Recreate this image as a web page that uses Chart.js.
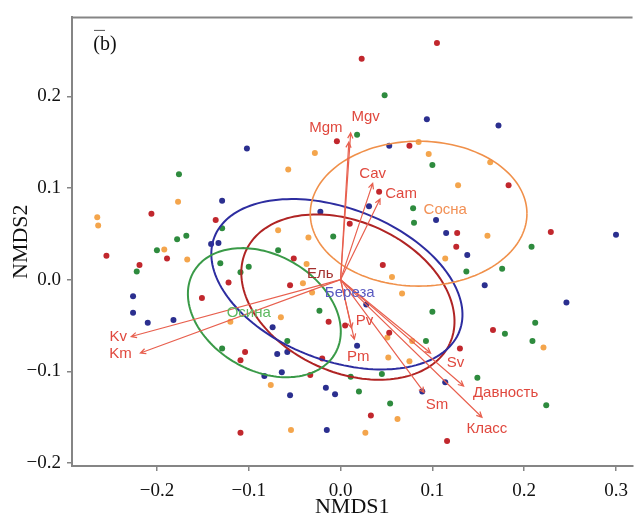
<!DOCTYPE html>
<html>
<head>
<meta charset="utf-8">
<script src="https://cdn.jsdelivr.net/npm/chart.js@4.4.1/dist/chart.umd.min.js"></script>
<style>
  html, body { margin: 0; padding: 0; background: #fff; }
</style>
</head>
<body>
<canvas id="nmdsChart" width="637" height="520"></canvas>
<script>
// Site scores (NMDS1 / NMDS2) by dominant tree species
const elX = [0.105, 0.023, -0.004, 0.075, 0.042, 0.183, -0.206, -0.136, 0.010, 0.127, 0.229, 0.126, -0.255, -0.189, -0.051, -0.219, -0.122, -0.055, -0.151, -0.104, -0.109, -0.033, -0.109, 0.046, -0.013, 0.005, 0.053, 0.130, 0.166, 0.033, 0.116, -0.020];
const elY = [0.258, 0.241, 0.151, 0.146, 0.096, 0.103, 0.072, 0.065, 0.061, 0.051, 0.052, 0.036, 0.026, 0.023, 0.023, 0.016, -0.003, -0.006, -0.020, -0.079, -0.088, -0.104, -0.167, 0.016, -0.046, -0.050, -0.058, -0.075, -0.055, -0.148, -0.176, -0.086];

const berX = [-0.102, 0.094, 0.172, 0.053, -0.129, 0.031, -0.022, 0.104, -0.141, -0.133, 0.115, 0.300, 0.138, -0.226, -0.226, -0.210, -0.182, -0.074, -0.069, -0.058, -0.083, -0.064, -0.055, 0.028, 0.018, -0.016, -0.006, -0.015, 0.089, 0.114, 0.157, 0.246];
const berY = [0.143, 0.175, 0.168, 0.146, 0.086, 0.080, 0.074, 0.065, 0.039, 0.040, 0.051, 0.049, 0.027, -0.018, -0.036, -0.047, -0.044, -0.052, -0.081, -0.079, -0.105, -0.101, -0.126, -0.027, -0.072, -0.118, -0.125, -0.164, -0.122, -0.112, -0.006, -0.025];

const osX = [0.048, 0.018, 0.100, -0.176, 0.079, 0.080, -0.129, -0.008, -0.168, -0.178, 0.208, -0.200, -0.068, -0.131, -0.100, -0.222, -0.109, -0.129, -0.058, -0.023, 0.011, 0.045, 0.020, 0.054, 0.100, 0.093, 0.137, 0.176, 0.179, 0.212, 0.209, 0.149, 0.224];
const osY = [0.201, 0.158, 0.125, 0.115, 0.078, 0.062, 0.056, 0.047, 0.048, 0.044, 0.036, 0.032, 0.032, 0.018, 0.014, 0.009, 0.008, -0.075, -0.067, -0.034, -0.106, -0.103, -0.122, -0.135, -0.035, -0.067, 0.009, 0.012, -0.059, -0.047, -0.067, -0.107, -0.137];

const sosX = [-0.028, -0.057, -0.177, -0.265, -0.264, 0.085, 0.096, 0.163, 0.128, -0.068, -0.035, 0.160, 0.114, -0.192, -0.167, -0.041, -0.120, -0.065, -0.076, -0.054, -0.037, -0.031, 0.056, 0.067, 0.051, 0.078, 0.052, 0.075, 0.062, 0.027, 0.221];
const sosY = [0.138, 0.120, 0.085, 0.068, 0.059, 0.150, 0.137, 0.128, 0.103, 0.054, 0.046, 0.048, 0.023, 0.033, 0.022, -0.004, -0.046, -0.041, -0.115, -0.164, 0.017, -0.014, 0.003, -0.015, -0.063, -0.067, -0.085, -0.089, -0.152, -0.167, -0.074];

// group ellipses: centre, semi-axes, rotation (deg)
const groups = ['Ель', 'Береза', 'Осина', 'Сосна'];
const ellCX = [0.008, -0.004, -0.083, 0.085];
const ellCY = [-0.019, -0.005, -0.036, 0.072];
const ellA = [0.122, 0.143, 0.089, 0.118];
const ellB = [0.082, 0.083, 0.063, 0.079];
const ellAngle = [-24.5, -21, -30, 0];
const groupLabelX = [-0.022, 0.010, -0.100, 0.114];
const groupLabelY = [0.006, -0.014, -0.036, 0.076];

// envfit vectors
const arrowNames = ['Mgv', 'Mgm', 'Cav', 'Cam', 'Kv', 'Km', 'Pv', 'Pm', 'Sv', 'Давность', 'Класс', 'Sm'];
const arrowX = [0.011, 0.009, 0.035, 0.043, -0.228, -0.218, 0.012, 0.015, 0.098, 0.134, 0.154, 0.091];
const arrowY = [0.160, 0.150, 0.105, 0.088, -0.062, -0.080, -0.053, -0.065, -0.080, -0.116, -0.150, -0.123];

const xTicks = [-0.2, -0.1, 0.0, 0.1, 0.2, 0.3];
const yTicks = [-0.2, -0.1, 0.0, 0.1, 0.2];

const pointColors = ['#c1272d', '#2b2f8f', '#2e8b3e', '#f4a54c'];
const ellColors = ['#b02424', '#2d2da0', '#3a9a48', '#f0904a'];
const groupLabelColors = ['#a3302e', '#5a5ac0', '#5cb860', '#f29055'];
const arrowColor = '#e8604f';
const arrowLabelColor = '#e0483e';
const axisGray = '#858585';
const serif = '"Liberation Serif", "Times New Roman", serif';
const sans = '"Liberation Sans", Arial, sans-serif';

// label offsets from arrow tips, px
const labelOffset = {
    Mgv: [15, -16], Mgm: [-23, -14], Cav: [0, -10], Cam: [21, -5],
    Kv: [-13, 0], Km: [-20, 1], Pv: [13, -7], Pm: [4, 18],
    Sv: [25, 10], 'Давность': [42, 7], 'Класс': [5, 12], Sm: [13, 12]
};

const toPoints = (xs, ys) => xs.map((v, i) => ({ x: v, y: ys[i] }));
const seriesX = [elX, berX, osX, sosX];
const seriesY = [elY, berY, osY, sosY];

const fmt = v => (v < -1e-9 ? '\u2212' : '') + Math.abs(v).toFixed(1);

const overlay = {
    id: 'overlay',
    afterDatasetsDraw(chart) {
        const { ctx, chartArea, scales: { x, y } } = chart;
        ctx.save();
        ctx.beginPath();
        ctx.rect(chartArea.left, chartArea.top, chartArea.width, chartArea.height);
        ctx.clip();

        // ellipses
        groups.forEach((g, i) => {
            const phi = ellAngle[i] * Math.PI / 180;
            ctx.beginPath();
            for (let k = 0; k <= 160; k++) {
                const t = k / 160 * 2 * Math.PI;
                const dx = ellA[i] * Math.cos(t), dy = ellB[i] * Math.sin(t);
                const px = x.getPixelForValue(ellCX[i] + dx * Math.cos(phi) - dy * Math.sin(phi));
                const py = y.getPixelForValue(ellCY[i] + dx * Math.sin(phi) + dy * Math.cos(phi));
                if (k) ctx.lineTo(px, py); else ctx.moveTo(px, py);
            }
            ctx.strokeStyle = ellColors[i];
            ctx.lineWidth = i === 3 ? 1.6 : 2;
            ctx.stroke();
        });

        // arrows
        const x0 = x.getPixelForValue(0), y0 = y.getPixelForValue(0);
        ctx.strokeStyle = arrowColor;
        ctx.lineWidth = 1.2;
        arrowNames.forEach((n, i) => {
            const x1 = x.getPixelForValue(arrowX[i]), y1 = y.getPixelForValue(arrowY[i]);
            const ang = Math.atan2(y1 - y0, x1 - x0);
            ctx.beginPath();
            ctx.moveTo(x0, y0);
            ctx.lineTo(x1, y1);
            ctx.moveTo(x1 - 6 * Math.cos(ang - 0.45), y1 - 6 * Math.sin(ang - 0.45));
            ctx.lineTo(x1, y1);
            ctx.lineTo(x1 - 6 * Math.cos(ang + 0.45), y1 - 6 * Math.sin(ang + 0.45));
            ctx.stroke();
        });

        ctx.font = '15px ' + sans;
        ctx.textAlign = 'center';
        ctx.textBaseline = 'middle';
        arrowNames.forEach((n, i) => {
            const off = labelOffset[n];
            ctx.fillStyle = arrowLabelColor;
            ctx.fillText(n, x.getPixelForValue(arrowX[i]) + off[0], y.getPixelForValue(arrowY[i]) + off[1]);
        });
        groups.forEach((g, i) => {
            ctx.fillStyle = groupLabelColors[i];
            ctx.fillText(g, x.getPixelForValue(groupLabelX[i]), y.getPixelForValue(groupLabelY[i]));
        });
        ctx.restore();

        // top frame line and panel tag
        ctx.save();
        ctx.strokeStyle = axisGray;
        ctx.lineWidth = 2;
        ctx.beginPath();
        ctx.moveTo(chartArea.left - 1, chartArea.top);
        ctx.lineTo(chartArea.right, chartArea.top);
        ctx.stroke();
        ctx.lineWidth = 1;
        ctx.strokeStyle = '#555';
        ctx.beginPath();
        ctx.moveTo(chartArea.left + 22, chartArea.top + 13);
        ctx.lineTo(chartArea.left + 33, chartArea.top + 13);
        ctx.stroke();
        ctx.fillStyle = '#111';
        ctx.font = '20px ' + serif;
        ctx.textAlign = 'center';
        ctx.textBaseline = 'middle';
        ctx.fillText('(b)', chartArea.left + 33, chartArea.top + 27);
        ctx.restore();
    }
};

const ctx = document.getElementById('nmdsChart');
const myChart = new Chart(ctx, {
    type: 'scatter',
    data: {
        datasets: groups.map((g, i) => ({
            label: g,
            data: toPoints(seriesX[i], seriesY[i]),
            backgroundColor: pointColors[i],
            borderWidth: 0,
            pointRadius: 3
        }))
    },
    options: {
        responsive: false,
        animation: false,
        layout: { padding: { top: 11, right: 0, left: 0, bottom: 0 } },
        plugins: { legend: { display: false }, tooltip: { enabled: false } },
        scales: {
            x: {
                type: 'linear',
                min: -0.2925,
                max: 0.318,
                afterFit: s => { s.height = 54; },
                afterBuildTicks: s => { s.ticks = xTicks.map(v => ({ value: v })); },
                grid: { display: true, drawOnChartArea: false, drawTicks: true, tickLength: 5, color: axisGray, lineWidth: 1.5 },
                border: { display: true, color: axisGray, width: 2 },
                ticks: { font: { family: serif, size: 19 }, color: '#111', padding: 9, maxRotation: 0, callback: fmt },
                title: { display: true, text: 'NMDS1', font: { family: serif, size: 22 }, color: '#111', padding: { top: 0, bottom: 0 } }
            },
            y: {
                type: 'linear',
                min: -0.2032,
                max: 0.286,
                afterFit: s => { s.width = 72; },
                afterBuildTicks: s => { s.ticks = yTicks.map(v => ({ value: v })); },
                grid: { display: true, drawOnChartArea: false, drawTicks: true, tickLength: 5, color: axisGray, lineWidth: 1.5 },
                border: { display: true, color: axisGray, width: 2 },
                ticks: { font: { family: serif, size: 19 }, color: '#111', padding: 6, callback: fmt },
                title: { display: true, text: 'NMDS2', font: { family: serif, size: 22 }, color: '#111', padding: { top: 8, bottom: 0 } }
            }
        }
    },
    plugins: [overlay]
});
</script>
</body>
</html>
